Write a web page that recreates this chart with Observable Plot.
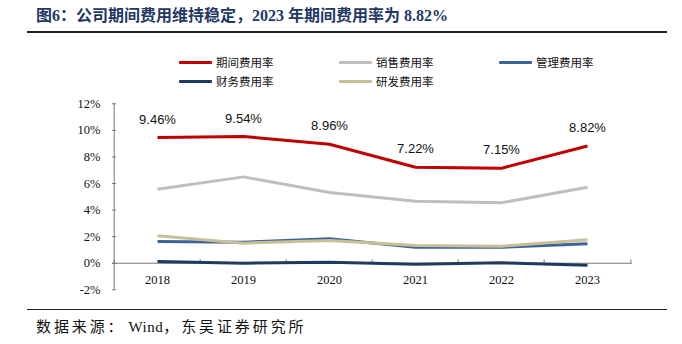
<!DOCTYPE html>
<html><head><meta charset="utf-8">
<script src="https://cdn.jsdelivr.net/npm/d3@7"></script>
<script src="https://cdn.jsdelivr.net/npm/@observablehq/plot@0.6"></script>
<style>
body{margin:0;background:#fff;}
#page{position:relative;width:682px;height:344px;overflow:hidden;background:#fff;}
#title{position:absolute;left:36px;top:6px;font:bold 16px "Liberation Serif","Noto Sans CJK SC",serif;color:#1f3864;white-space:nowrap;line-height:20px;}
.rule{position:absolute;left:27px;width:640px;background:#222;}
#legend{position:absolute;left:0;top:0;}
.li{position:absolute;height:14px;display:flex;align-items:center;font:11.5px "Noto Sans CJK SC",sans-serif;color:#111;white-space:nowrap;}
.sw{width:33px;height:3px;margin-right:4px;border-radius:1px;}
#src{position:absolute;left:36px;top:317px;font:15px "Liberation Serif","Noto Sans CJK SC",serif;color:#111;letter-spacing:2.9px;white-space:nowrap;line-height:20px;}
#src .en{letter-spacing:0.5px;margin-left:3px;}
#chart{position:absolute;left:0;top:92px;}
</style></head>
<body><div id="page">
<div id="title">图6：公司期间费用维持稳定，2023 年期间费用率为 8.82%</div>
<div class="rule" style="top:31px;height:2px;"></div>
<div id="legend"></div>
<div id="chart"></div>
<div class="rule" style="top:309px;height:1px;"></div>
<div id="src">数据来源：<span class="en">Wind</span>，东吴证券研究所</div>
</div>
<script>
const years = ["2018","2019","2020","2021","2022","2023"];
const seriesNames = ["期间费用率","销售费用率","管理费用率","财务费用率","研发费用率"];
const periodRate = [9.46, 9.54, 8.96, 7.22, 7.15, 8.82];
const salesRate = [5.57, 6.50, 5.32, 4.67, 4.55, 5.72];
const adminRate = [1.63, 1.58, 1.84, 1.20, 1.20, 1.46];
const financeRate = [0.13, 0.00, 0.08, -0.07, 0.04, -0.16];
const rdRate = [2.06, 1.51, 1.71, 1.33, 1.28, 1.76];
const yTicks = [-2, 0, 2, 4, 6, 8, 10, 12];
const colors = {"期间费用率":"#c00000","销售费用率":"#bfbfbf","管理费用率":"#3d6499","财务费用率":"#1f3a60","研发费用率":"#c9bf97"};

const valuesBySeries = {"期间费用率":periodRate,"销售费用率":salesRate,"管理费用率":adminRate,"财务费用率":financeRate,"研发费用率":rdRate};
const drawOrder = ["销售费用率","管理费用率","研发费用率","财务费用率","期间费用率"];
const rows = [];
for (const s of drawOrder) years.forEach((y,i)=>rows.push({series:s, year:y, value:valuesBySeries[s][i]}));
const labels = years.map((y,i)=>({year:y, value:periodRate[i]}));

// legend
const legendPos = [[179,55],[339,55],[499,55],[179,74],[339,74]];
const legend = document.getElementById("legend");
seriesNames.forEach((s,i)=>{
  const d = document.createElement("div");
  d.className="li"; d.style.left=legendPos[i][0]+"px"; d.style.top=legendPos[i][1]+"px";
  d.innerHTML = `<span class="sw" style="background:${colors[s]}"></span><span>${s}</span>`;
  legend.appendChild(d);
});

const W = 682, H = 220, mL = 112, mR = 50, mT = 11.3, mB = 22.7;
const bw = (W - mL - mR) / years.length;
const serif = "Liberation Serif, Times New Roman, serif";

const chart = Plot.plot({
  width: W, height: H,
  marginLeft: mL, marginRight: mR, marginTop: mT, marginBottom: mB,
  x: {type:"band", domain: years, padding: 0, axis: null},
  y: {domain: [-2, 12], axis: null},
  marks: [
    Plot.axisY({ticks: yTicks, label: null, tickSize: 0, tickPadding: 12, tickFormat: d => d + "%", fontSize: 12.5, fontFamily: serif, fill: "#111"}),
    Plot.tickY(yTicks, {y: d => d, insetRight: W - mL - mR - 4, stroke: "#777"}),
    Plot.ruleX([years[0]], {x: d => d, y1: -2, y2: 12, dx: -bw/2, stroke: "#777"}),
    Plot.ruleY([0], {stroke: "#777"}),
    Plot.ruleX(years, {x: d => d, y1: 0, y2: 0.25, dx: -bw/2, stroke: "#777"}),
    Plot.ruleX([years[years.length-1]], {x: d => d, y1: 0, y2: 0.25, dx: bw/2, stroke: "#777"}),
    Plot.text(years, {x: d => d, y: () => 0, dy: 17, text: d => d, fontSize: 12.5, fontFamily: serif, fill: "#111"}),
    Plot.line(rows, {x: "year", y: "value", z: "series", stroke: d => colors[d.series], strokeWidth: 3, strokeLinejoin: "round", strokeLinecap: "butt"}),
    Plot.text(labels, {x: "year", y: "value", dy: -18, text: d => d.value.toFixed(2) + "%", fontSize: 13, fontFamily: "Liberation Sans, Arial, sans-serif", fill: "#111"})
  ]
});
document.getElementById("chart").appendChild(chart);
</script>
</body></html>
